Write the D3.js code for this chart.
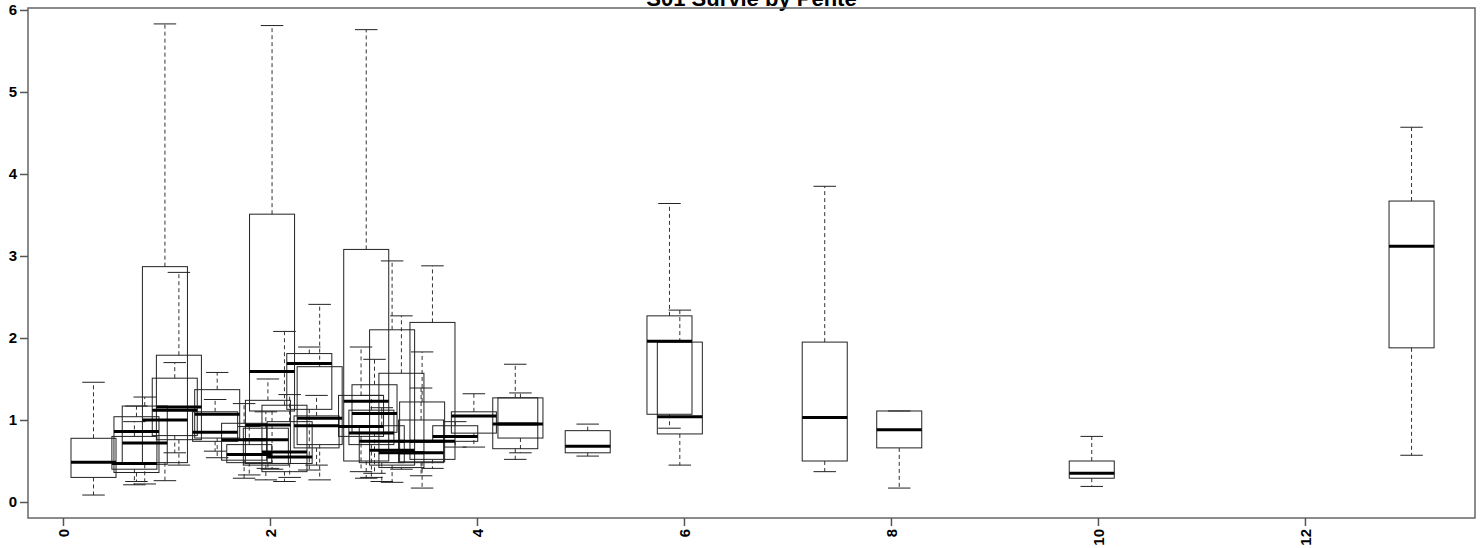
<!DOCTYPE html>
<html>
<head>
<meta charset="utf-8">
<script src="https://cdn.jsdelivr.net/npm/d3@7"></script>
<style>
  body { margin: 0; background: #fff; }
  svg { display: block; }
  text { font-family: "Liberation Sans", Arial, sans-serif; font-weight: bold; }
</style>
</head>
<body>
<div id="chart"></div>
<script>
// Werte (Pente -> Survie), ein Eintrag pro Box
var positions    = [0.295, 0.69, 0.71, 0.79, 0.985, 1.08, 1.12, 1.47, 1.49, 1.75, 1.80, 1.96, 1.98, 2.02, 2.14, 2.19, 2.38, 2.45, 2.48,
                    2.88, 2.93, 2.98, 3.01, 3.08, 3.18, 3.27, 3.46, 3.47, 3.57, 3.79, 3.97, 4.37, 4.42, 5.07, 5.86, 5.96, 7.36, 8.08, 9.94, 13.03];
var lowWhisker   = [0.085, 0.21, 0.25, 0.22, 0.26, 0.60, 0.45, 0.62, 0.54, 0.29, 0.33, 0.27, 0.41, 0.40, 0.25, 0.30, 0.39, 0.45, 0.27,
                    0.37, 0.29, 0.30, 0.35, 0.25, 0.24, 0.40, 0.32, 0.17, 0.41, 0.67, 0.67, 0.52, 0.60, 0.56, 0.90, 0.45, 0.37, 0.17, 0.19, 0.57];
var q1           = [0.30, 0.40, 0.36, 0.46, 0.48, 0.81, 0.76, 0.74, 0.78, 0.51, 0.48, 0.45, 0.47, 1.11, 0.37, 0.47, 1.13, 0.66, 0.70,
                    0.80, 0.50, 0.70, 0.85, 0.48, 0.45, 0.42, 0.48, 0.49, 0.52, 0.74, 0.84, 0.65, 0.78, 0.60, 1.07, 0.83, 0.50, 0.66, 0.29, 1.88];
var medians      = [0.485, 0.47, 0.86, 0.72, 1.00, 1.12, 1.16, 0.85, 1.07, 0.76, 0.58, 0.76, 0.94, 1.59, 0.61, 0.55, 1.69, 0.93, 1.02,
                    0.92, 1.23, 0.84, 1.08, 0.74, 0.63, 0.60, 0.60, 0.74, 0.74, 0.80, 1.05, 0.95, 0.95, 0.68, 1.96, 1.04, 1.03, 0.88, 0.35, 3.12];
var q3           = [0.777, 0.80, 1.04, 1.17, 2.87, 1.51, 1.79, 1.10, 1.37, 0.96, 0.70, 0.90, 1.24, 3.51, 1.18, 0.98, 1.81, 1.05, 1.65,
                    1.30, 3.08, 1.12, 1.43, 0.93, 2.10, 1.57, 1.00, 1.22, 2.19, 0.93, 1.10, 1.27, 1.27, 0.87, 2.27, 1.95, 1.95, 1.11, 0.50, 3.67];
var highWhisker  = [1.46, 0.98, 1.17, 1.28, 5.83, 1.70, 2.80, 1.25, 1.58, 1.20, 0.92, 1.10, 1.50, 5.81, 2.08, 1.31, 1.89, 1.30, 2.41,
                    1.89, 5.76, 1.30, 1.74, 1.15, 2.94, 2.27, 1.39, 1.83, 2.88, 0.98, 1.32, 1.68, 1.33, 0.95, 3.64, 2.34, 3.85, 1.11, 0.80, 4.57];

var xTicks = [0, 2, 4, 6, 8, 10, 12];
var yTicks = [0, 1, 2, 3, 4, 5, 6];
var title = "S01 Survie by Pente";

var width = 1481, height = 548;
var plot = {left: 28, right: 1475, top: 8, bottom: 518};

var svg = d3.select("#chart")
    .append("svg")
    .attr("width", width)
    .attr("height", height);

var boxes = positions.map(function (p, i) {
    return {pos: p, lw: lowWhisker[i], q1: q1[i], med: medians[i], q3: q3[i], uw: highWhisker[i]};
});

// Skalen
var x = d3.scaleLinear()
    .domain([-0.338, 13.643])
    .range([plot.left, plot.right]);
var y = d3.scaleLinear()
    .domain([-0.195, 6.024])
    .range([plot.bottom, plot.top]);

var boxWex = 0.435;   // Boxbreite in x-Einheiten
var halfBox = (x(boxWex) - x(0)) / 2;
var halfCap = halfBox / 2;

// Titel (oben angeschnitten wie im Original)
svg.append("text")
    .attr("x", (plot.left + plot.right) / 2)
    .attr("y", 6)
    .attr("text-anchor", "middle")
    .attr("font-size", "22px")
    .attr("fill", "#000")
    .text(title);

var g = svg.append("g");

// Whisker (gestrichelt)
g.selectAll("line.whiskerTop")
    .data(boxes)
    .enter()
    .append("line")
    .attr("x1", function (d) { return x(d.pos); })
    .attr("x2", function (d) { return x(d.pos); })
    .attr("y1", function (d) { return y(d.q3); })
    .attr("y2", function (d) { return y(d.uw); })
    .attr("stroke", "#333")
    .attr("stroke-width", 1)
    .attr("stroke-dasharray", "4,3");

g.selectAll("line.whiskerBottom")
    .data(boxes)
    .enter()
    .append("line")
    .attr("x1", function (d) { return x(d.pos); })
    .attr("x2", function (d) { return x(d.pos); })
    .attr("y1", function (d) { return y(d.q1); })
    .attr("y2", function (d) { return y(d.lw); })
    .attr("stroke", "#333")
    .attr("stroke-width", 1)
    .attr("stroke-dasharray", "4,3");

// Staples
["uw", "lw"].forEach(function (key) {
    g.selectAll("line.cap-" + key)
        .data(boxes)
        .enter()
        .append("line")
        .attr("x1", function (d) { return x(d.pos) - halfCap; })
        .attr("x2", function (d) { return x(d.pos) + halfCap; })
        .attr("y1", function (d) { return y(d[key]); })
        .attr("y2", function (d) { return y(d[key]); })
        .attr("stroke", "#222")
        .attr("stroke-width", 1);
});

// Boxen
g.selectAll("rect.box")
    .data(boxes)
    .enter()
    .append("rect")
    .attr("x", function (d) { return x(d.pos) - halfBox; })
    .attr("width", halfBox * 2)
    .attr("y", function (d) { return y(d.q3); })
    .attr("height", function (d) { return y(d.q1) - y(d.q3); })
    .attr("fill", "none")
    .attr("stroke", "#222")
    .attr("stroke-width", 1);

// Median
g.selectAll("line.median")
    .data(boxes)
    .enter()
    .append("line")
    .attr("x1", function (d) { return x(d.pos) - halfBox; })
    .attr("x2", function (d) { return x(d.pos) + halfBox; })
    .attr("y1", function (d) { return y(d.med); })
    .attr("y2", function (d) { return y(d.med); })
    .attr("stroke", "#000")
    .attr("stroke-width", 3);

// Rahmen
svg.append("rect")
    .attr("x", plot.left)
    .attr("y", plot.top)
    .attr("width", plot.right - plot.left)
    .attr("height", plot.bottom - plot.top)
    .attr("fill", "none")
    .attr("stroke", "#666")
    .attr("stroke-width", 1.5);

// x-Achse, Beschriftung senkrecht
var xAxis = svg.append("g")
    .attr("transform", "translate(0," + plot.bottom + ")")
    .call(d3.axisBottom(x).tickValues(xTicks).tickSize(8).tickFormat(d3.format("d")));
xAxis.select(".domain").remove();
xAxis.selectAll("line").attr("stroke", "#555").attr("stroke-width", 1.5);
xAxis.selectAll("text")
    .attr("font-size", "15px")
    .attr("fill", "#000")
    .attr("text-anchor", "end")
    .attr("dy", "0.35em")
    .attr("transform", "translate(0,11) rotate(-90)")
    .attr("x", 0)
    .attr("y", 0);

// y-Achse
var yAxis = svg.append("g")
    .attr("transform", "translate(" + plot.left + ",0)")
    .call(d3.axisLeft(y).tickValues(yTicks).tickSize(8).tickPadding(3).tickFormat(d3.format("d")));
yAxis.select(".domain").remove();
yAxis.selectAll("line").attr("stroke", "#555").attr("stroke-width", 1.5);
yAxis.selectAll("text")
    .attr("font-size", "15px")
    .attr("fill", "#000");
</script>
</body>
</html>
